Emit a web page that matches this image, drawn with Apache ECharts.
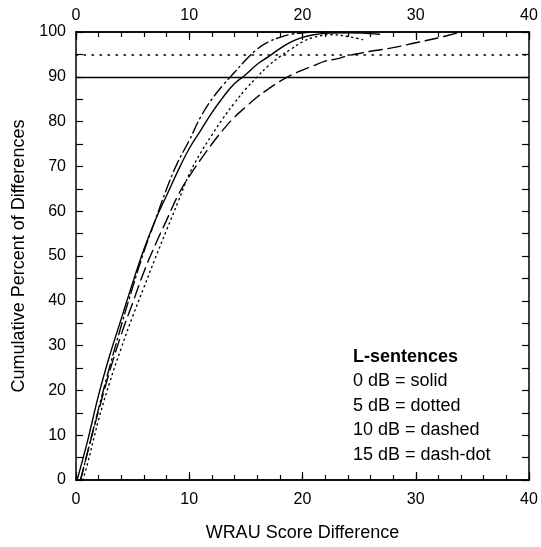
<!DOCTYPE html>
<html><head><meta charset="utf-8">
<script src="https://cdn.jsdelivr.net/npm/echarts@6/dist/echarts.min.js"></script>
<style>html,body{margin:0;padding:0;background:#fff}#c{width:541px;height:547px}</style>
</head><body><div id="c"></div>
<script>
// x values (WRAU score difference) and cumulative percent for each condition
const solidX   = [0.1,1,2,3,4,5,6,7,8,9,10,11,12,13,14,15,16,17,18,19,20,21,22,24,26.8];
const solidY   = [0,8.5,19,28,36,44,51.5,58,63.5,69,74,78,82,85.5,88.5,90.5,92.8,94.5,96.3,97.8,98.8,99.4,99.7,99.8,99.5];
const dottedX  = [0.6,1,2,3,4,5,6,7,8,9,10,11,12,13,14,15,16,17,18,19,20,21,22.5,24,25.3];
const dottedY  = [0,3.5,13.5,22,29.5,36.5,43,49.5,55.8,62,68.3,73,77,80.8,84.2,87.3,90,92.5,94.5,96.2,97.8,98.8,99.4,99,98.3];
const dashedX  = [0.4,1,2,3,4,5,6,7,8,9,10,11,12,13,14,15,16,17,18,19,20,21,22,23,24,25,26,28,30,32,34];
const dashedY  = [0,6,15.5,24.5,32.5,39.5,46.5,52.5,58,63.5,67.8,71.5,75,78.2,81,83.3,85.5,87.3,89,90.4,91.5,92.5,93.5,94,94.7,95.2,95.7,96.5,97.6,98.7,100];
const dashDotX = [0.4,1,2,3,4,5,6,7,8,9,10,11,12,13,14,15,16,17,18,19,20,21,23];
const dashDotY = [0,6,16,25.5,34.5,43,51,58,65,71,75.8,81,85,88.2,91,93.8,96.2,97.8,98.8,99.5,99.8,100,100];
const refSolid = 90;
const refDotted = 95;
const legendLines = ['L-sentences','0 dB = solid','5 dB = dotted','10 dB = dashed','15 dB = dash-dot'];

const zip = (xs, ys) => xs.map((x,i)=>[x, ys[i]]);
const FONT = 'Liberation Sans';
const chart = echarts.init(document.getElementById('c'));
const lineAx = {show:true, onZero:false, lineStyle:{color:'#000', width:1.5}};
function xAx(pos, interval, tickLen, labels, margin, extra) {
  return Object.assign({
    type:'value', min:0, max:40, interval, position:pos,
    axisLine: lineAx,
    axisTick: {show:true, inside:true, length:tickLen, lineStyle:{color:'#000', width:1.2}},
    splitLine: {show:false},
    axisLabel: labels ? {color:'#000', fontFamily:FONT, fontSize:16, margin:margin} : {show:false}
  }, extra||{});
}
function yAx(pos, labels, extra) {
  return Object.assign({
    type:'value', min:0, max:100, interval:5, position:pos,
    axisLine: lineAx,
    axisTick: {show:true, inside:true, length:7, lineStyle:{color:'#000', width:1.2}},
    splitLine: {show:false},
    axisLabel: labels ? {color:'#000', fontFamily:FONT, fontSize:16, margin:10,
      formatter: v => (v % 10 === 0 ? String(v) : '')} : {show:false}
  }, extra||{});
}
function series(name, xs, ys, type) {
  return {
    name, type:'line', data: zip(xs, ys), smooth:0.4, showSymbol:false, symbol:'none',
    lineStyle:{color:'#000', width:1.4, type: type, cap:'round'}, z:3
  };
}
chart.setOption({
  animation:false,
  grid:{left:76, right:12, top:32, bottom:62},
  xAxis:[
    xAx('bottom', 10, 8, true, 12, {name:'WRAU Score Difference', nameLocation:'middle', nameGap:44,
      nameTextStyle:{color:'#000', fontFamily:FONT, fontSize:18}}),
    xAx('top', 10, 8, true, 8),
    xAx('bottom', 2, 5, false),
    xAx('top', 2, 5, false)
  ],
  yAxis:[
    yAx('left', true, {name:'Cumulative Percent of Differences', nameLocation:'middle', nameGap:43,
      nameTextStyle:{color:'#000', fontFamily:FONT, fontSize:18}}),
    yAx('right', false)
  ],
  series:[
    Object.assign(series('0 dB', solidX, solidY, 'solid'), {
      markLine:{silent:true, symbol:'none', label:{show:false},
        data:[
          {yAxis:refSolid, lineStyle:{color:'#000', width:1.3, type:'solid'}},
          {yAxis:refDotted, lineStyle:{color:'#000', width:1.5, type:[1.5,6.5], cap:'round'}}
        ]}
    }),
    series('5 dB', dottedX, dottedY, [1.2,4]),
    series('10 dB', dashedX, dashedY, [13,6]),
    series('15 dB', dashDotX, dashDotY, [12,4,1.5,4])
  ],
  graphic: legendLines.map((t,i)=>({
    type:'text', left:353, top: 348 + i*24.5,
    style:{text:t, fill:'#000', font:(i===0?'bold ':'')+'18px "'+FONT+'"'}
  }))
});
</script></body></html>
